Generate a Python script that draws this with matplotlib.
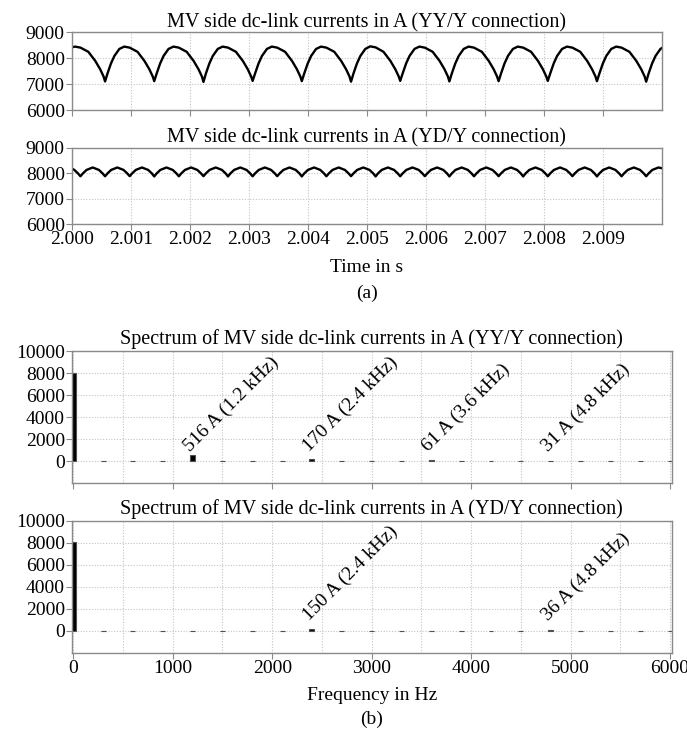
import matplotlib
matplotlib.use("Agg")
import matplotlib.pyplot as plt
import numpy as np
from matplotlib.ticker import MultipleLocator, FormatStrFormatter, NullFormatter

plt.rcParams['font.family'] = ['Liberation Serif', 'DejaVu Serif']

# ---------------- data: time traces (ms after 2.000 s, current in A) ----------------
yy_time_ms = [
    0.000, 0.057, 0.149, 0.282, 0.399, 0.482, 0.540,
    0.565, 0.607, 0.665, 0.723, 0.807, 0.890, 0.982, 1.115, 1.232, 1.315, 1.373,
    1.398, 1.440, 1.498, 1.556, 1.640, 1.723, 1.815, 1.948, 2.065, 2.148, 2.206,
    2.232, 2.274, 2.332, 2.390, 2.474, 2.557, 2.649, 2.782, 2.899, 2.982, 3.040,
    3.065, 3.107, 3.165, 3.223, 3.307, 3.390, 3.482, 3.615, 3.732, 3.815, 3.873,
    3.898, 3.940, 3.998, 4.056, 4.140, 4.223, 4.315, 4.448, 4.565, 4.648, 4.706,
    4.732, 4.774, 4.832, 4.890, 4.974, 5.057, 5.149, 5.282, 5.399, 5.482, 5.540,
    5.565, 5.607, 5.665, 5.723, 5.807, 5.890, 5.982, 6.115, 6.232, 6.315, 6.373,
    6.398, 6.440, 6.498, 6.556, 6.640, 6.723, 6.815, 6.948, 7.065, 7.148, 7.206,
    7.232, 7.274, 7.332, 7.390, 7.474, 7.557, 7.649, 7.782, 7.899, 7.982, 8.040,
    8.065, 8.107, 8.165, 8.223, 8.307, 8.390, 8.482, 8.615, 8.732, 8.815, 8.873,
    8.898, 8.940, 8.998, 9.056, 9.140, 9.223, 9.315, 9.448, 9.565, 9.648, 9.706,
    9.732, 9.774, 9.832, 9.890, 9.974, 10.000,
]
yy_current = [
    8420, 8450, 8410, 8250, 7900, 7580, 7300,
    7110, 7420, 7800, 8090, 8360, 8450, 8410, 8250, 7900, 7580, 7300,
    7120, 7420, 7800, 8090, 8360, 8450, 8410, 8250, 7900, 7580, 7300,
    7090, 7420, 7800, 8090, 8360, 8450, 8410, 8250, 7900, 7580, 7300,
    7130, 7420, 7800, 8090, 8360, 8450, 8410, 8250, 7900, 7580, 7300,
    7120, 7420, 7800, 8090, 8360, 8450, 8410, 8250, 7900, 7580, 7300,
    7100, 7420, 7800, 8090, 8360, 8460, 8420, 8250, 7900, 7580, 7300,
    7130, 7420, 7800, 8090, 8360, 8450, 8410, 8250, 7900, 7580, 7300,
    7110, 7420, 7800, 8090, 8360, 8450, 8410, 8250, 7900, 7580, 7300,
    7120, 7420, 7800, 8090, 8360, 8450, 8410, 8250, 7900, 7580, 7300,
    7130, 7420, 7800, 8090, 8360, 8450, 8410, 8250, 7900, 7580, 7300,
    7120, 7420, 7800, 8090, 8360, 8450, 8410, 8250, 7900, 7580, 7300,
    7100, 7420, 7800, 8090, 8360, 8400,
]

yd_time_ms = [
    0.000, 0.044, 0.106,
    0.148, 0.190, 0.252, 0.356, 0.461, 0.523,
    0.565, 0.607, 0.669, 0.773, 0.878, 0.940,
    0.982, 1.024, 1.086, 1.190, 1.295, 1.357,
    1.398, 1.440, 1.502, 1.606, 1.711, 1.773,
    1.815, 1.857, 1.919, 2.023, 2.128, 2.190,
    2.232, 2.274, 2.336, 2.440, 2.545, 2.607,
    2.648, 2.690, 2.752, 2.856, 2.961, 3.023,
    3.065, 3.107, 3.169, 3.273, 3.378, 3.440,
    3.482, 3.524, 3.586, 3.690, 3.795, 3.857,
    3.898, 3.940, 4.002, 4.106, 4.211, 4.273,
    4.315, 4.357, 4.419, 4.523, 4.628, 4.690,
    4.732, 4.774, 4.836, 4.940, 5.045, 5.107,
    5.148, 5.190, 5.252, 5.356, 5.461, 5.523,
    5.565, 5.607, 5.669, 5.773, 5.878, 5.940,
    5.982, 6.024, 6.086, 6.190, 6.295, 6.357,
    6.398, 6.440, 6.502, 6.606, 6.711, 6.773,
    6.815, 6.857, 6.919, 7.023, 7.128, 7.190,
    7.232, 7.274, 7.336, 7.440, 7.545, 7.607,
    7.648, 7.690, 7.752, 7.856, 7.961, 8.023,
    8.065, 8.107, 8.169, 8.273, 8.378, 8.440,
    8.482, 8.524, 8.586, 8.690, 8.795, 8.857,
    8.898, 8.940, 9.002, 9.106, 9.211, 9.273,
    9.315, 9.357, 9.419, 9.523, 9.628, 9.690,
    9.732, 9.774, 9.836, 9.940, 10.000,
]
yd_current = [
    8190, 8130, 7995,
    7880, 7995, 8130, 8225, 8130, 7995,
    7880, 7995, 8130, 8225, 8130, 7995,
    7885, 7995, 8130, 8225, 8130, 7995,
    7875, 7995, 8130, 8225, 8130, 7995,
    7880, 7995, 8130, 8225, 8130, 7995,
    7885, 7995, 8130, 8225, 8130, 7995,
    7875, 7995, 8130, 8225, 8130, 7995,
    7880, 7995, 8130, 8225, 8130, 7995,
    7885, 7995, 8130, 8225, 8130, 7995,
    7875, 7995, 8130, 8225, 8130, 7995,
    7880, 7995, 8130, 8225, 8130, 7995,
    7885, 7995, 8130, 8225, 8130, 7995,
    7875, 7995, 8130, 8225, 8130, 7995,
    7880, 7995, 8130, 8225, 8130, 7995,
    7885, 7995, 8130, 8225, 8130, 7995,
    7875, 7995, 8130, 8225, 8130, 7995,
    7880, 7995, 8130, 8225, 8130, 7995,
    7885, 7995, 8130, 8225, 8130, 7995,
    7875, 7995, 8130, 8225, 8130, 7995,
    7880, 7995, 8130, 8225, 8130, 7995,
    7885, 7995, 8130, 8225, 8130, 7995,
    7875, 7995, 8130, 8225, 8130, 7995,
    7880, 7995, 8130, 8225, 8130, 7995,
    7880, 7995, 8130, 8225, 8195,
]

# ---------------- data: spectra (Hz, A) ----------------
spec_freq = [0, 300, 600, 900, 1200, 1500, 1800, 2100, 2400, 2700, 3000,
             3300, 3600, 3900, 4200, 4500, 4800, 5100, 5400, 5700, 6000]
yy_amp = [8000, 12, 10, 9, 516, 8, 7, 6, 170, 5, 5,
          5, 61, 4, 4, 4, 31, 3, 3, 3, 3]
yd_amp = [8100, 10, 9, 8, 10, 7, 6, 5, 150, 5, 4,
          4, 4, 4, 3, 3, 36, 3, 3, 3, 3]
yy_labels_freq = [1200, 2400, 3600, 4800]
yy_labels = ["516 A (1.2 kHz)", "170 A (2.4 kHz)", "61 A (3.6 kHz)", "31 A (4.8 kHz)"]
yd_labels_freq = [2400, 4800]
yd_labels = ["150 A (2.4 kHz)", "36 A (4.8 kHz)"]

time_titles = ["MV side dc-link currents in A (YY/Y connection)",
               "MV side dc-link currents in A (YD/Y connection)"]
spec_titles = ["Spectrum of MV side dc-link currents in A (YY/Y connection)",
               "Spectrum of MV side dc-link currents in A (YD/Y connection)"]

# ---------------- figure ----------------
W, H = 687, 732
fig = plt.figure(figsize=(W / 100, H / 100), dpi=100)

def rect(x0, x1, ytop, ybot):
    return [x0 / W, 1 - ybot / H, (x1 - x0) / W, (ybot - ytop) / H]

SPINE = '#8a8a8a'
GRID = dict(color='#c4c4c4', linestyle=(0, (1, 1.5)), linewidth=0.8)
FS = 14
TFS = 14.5

def style(ax):
    for s in ax.spines.values():
        s.set_color(SPINE)
        s.set_linewidth(1.0)
    ax.tick_params(axis='both', which='major', direction='out', length=4,
                   color=SPINE, labelsize=FS, pad=1)
    ax.tick_params(axis='both', which='minor', length=0)
    ax.set_axisbelow(True)

TL, TR = 71.7, 662.0
SL, SR = 71.7, 672.0

ax1 = fig.add_axes(rect(TL, TR, 32.3, 110.3))
ax2 = fig.add_axes(rect(TL, TR, 147.7, 224.3))
for ax, t, v, title in [(ax1, yy_time_ms, yy_current, time_titles[0]),
                        (ax2, yd_time_ms, yd_current, time_titles[1])]:
    ts = 2.0 + np.asarray(t) / 1000.0
    ax.plot(ts, v, color='black', linewidth=1.7, solid_joinstyle='round')
    ax.set_yticks([6000, 7000, 8000, 9000])
    ax.set_xticks(np.arange(2.000, 2.0095, 0.001))
    ax.xaxis.set_major_formatter(FormatStrFormatter('%.3f'))
    ax.set_xlim(2.000, 2.010)
    ax.set_ylim(6000, 9000)
    ax.grid(True, which='major', **GRID)
    ax.set_title(title, fontsize=TFS, pad=3)
    style(ax)
ax1.xaxis.set_major_formatter(NullFormatter())

fig.text((TL + TR) / 2 / W, 1 - 268 / H, "Time in s", ha='center', va='center', fontsize=FS)
fig.text((TL + TR) / 2 / W, 1 - 293 / H, "(a)", ha='center', va='center', fontsize=FS)

ax3 = fig.add_axes(rect(SL, SR, 351.4, 483))
ax4 = fig.add_axes(rect(SL, SR, 520.7, 652.7))
for ax, amp, lf, lt, title in [(ax3, yy_amp, yy_labels_freq, yy_labels, spec_titles[0]),
                               (ax4, yd_amp, yd_labels_freq, yd_labels, spec_titles[1])]:
    ax.bar(spec_freq, amp, width=50, color='black', edgecolor='#505050', linewidth=0.8)
    ax.set_xlim(-16, 6020)
    ax.set_ylim(-2000, 10000)
    ax.set_yticks([0, 2000, 4000, 6000, 8000, 10000])
    ax.xaxis.set_major_locator(MultipleLocator(1000))
    ax.xaxis.set_minor_locator(MultipleLocator(500))
    ax.yaxis.set_minor_locator(MultipleLocator(2000))
    ax.grid(True, which='both', **GRID)
    ax.set_title(title, fontsize=TFS, pad=5)
    for f, txt in zip(lf, lt):
        ax.text(f - 30, 850, txt, rotation=45, rotation_mode='anchor',
                ha='left', va='baseline', fontsize=FS)
    style(ax)
ax3.xaxis.set_major_formatter(NullFormatter())

fig.text((SL + SR) / 2 / W, 1 - 695 / H, "Frequency in Hz", ha='center', va='center', fontsize=FS)
fig.text((SL + SR) / 2 / W, 1 - 719 / H, "(b)", ha='center', va='center', fontsize=FS)

fig.savefig("out.png", dpi=100)
